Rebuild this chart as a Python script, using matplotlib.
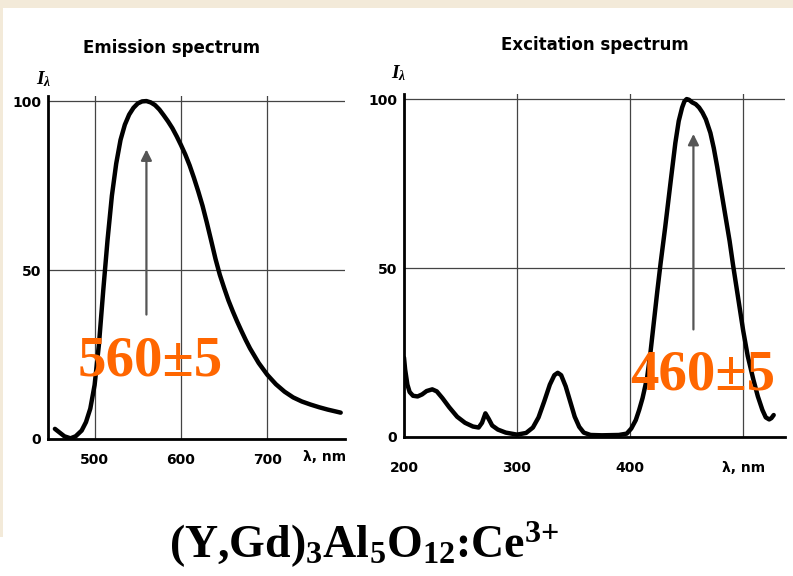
import matplotlib
matplotlib.use("Agg")
import matplotlib.pyplot as plt
from matplotlib.patches import Rectangle

plt.rcParams['mathtext.fontset'] = 'custom'
plt.rcParams['mathtext.rm'] = 'Liberation Serif:bold'
plt.rcParams['mathtext.bf'] = 'Liberation Serif:bold'
plt.rcParams['mathtext.it'] = 'Liberation Serif:bold:italic'

# ---------------- data ----------------
em_wavelength = [454, 460, 465, 472, 478, 485, 490, 495, 500, 505, 510, 515, 520,
                 525, 530, 535, 540, 545, 550, 555, 560, 565, 570, 575, 580, 585,
                 590, 595, 600, 605, 610, 615, 620, 625, 630, 635, 640, 645, 650,
                 655, 660, 665, 670, 675, 680, 690, 700, 710, 720, 730, 740, 750,
                 760, 770, 785]
em_intensity = [3, 1.8, 0.8, 0.2, 0.8, 2.5, 5, 9, 16, 28, 44, 59, 72, 81.5, 88.5,
                93, 96, 98, 99.3, 99.9, 100, 99.6, 98.8, 97.5, 95.8, 94, 92, 89.6,
                87, 84.2, 81, 77.3, 73.3, 69, 64, 58.7, 53.3, 48.6, 44.7, 41, 37.8,
                34.8, 32, 29.3, 26.8, 22.5, 19, 16.2, 14, 12.3, 11.1, 10.2, 9.4,
                8.7, 7.8]

ex_wavelength = [200, 201, 203, 205, 208, 212, 216, 220, 225, 229, 234, 240, 247,
                 254, 261, 266, 269, 272, 275, 278, 283, 290, 300, 308, 314, 319,
                 324, 329, 333, 336, 339, 343, 347, 351, 355, 359, 365, 375, 390,
                 397, 401, 405, 408, 411, 415, 418, 421, 424, 427, 431, 436, 440,
                 443, 446, 448, 450, 452, 455, 458, 461, 464, 467, 471, 474, 477,
                 480, 484, 488, 491, 494, 497, 500, 504, 509, 513, 517, 520, 523,
                 525, 527]
ex_intensity = [23.5, 20, 15.5, 13.3, 12.2, 12, 12.6, 13.6, 14.1, 13.5, 11.5, 8.8,
                6, 4.2, 3.1, 2.8, 4.2, 7, 5.3, 3.4, 2.2, 1.3, 0.7, 1.2, 2.8, 5.8,
                10.5, 15.5, 18.3, 19, 18.3, 15, 10.5, 6, 3, 1.3, 0.6, 0.5, 0.6,
                1, 2.5, 5, 8, 11.5, 17.5, 25, 34, 43, 51.5, 62, 76, 87, 93.5,
                97.5, 99.3, 100, 99.8, 99, 98.5, 97.5, 96, 94, 90, 85.5, 80, 74,
                66, 58, 51, 44.5, 38, 31.5, 24, 17, 12, 8, 5.8, 5.2, 5.6, 6.5]

em_peak = 560
ex_peak = 456
em_label = "560±5"
ex_label = "460±5"

em_xticks = [500, 600, 700]
ex_xticks = [200, 300, 400, 500]
ex_xticklabels = ["200", "300", "400", "λ, nm"]
yticks = [0, 50, 100]

W, H = 793, 576
fig = plt.figure(figsize=(W / 100, H / 100), dpi=100)
fig.patch.set_facecolor("white")

beige = "#f3ead9"
fig.add_artist(Rectangle((0, 1 - 8 / H), 1, 8 / H, transform=fig.transFigure,
                         facecolor=beige, edgecolor="none", zorder=-10))
fig.add_artist(Rectangle((0, 1 - 537 / H), 3 / W, (537 - 8) / H,
                         transform=fig.transFigure, facecolor=beige,
                         edgecolor="none", zorder=-10))


def px_axes(x0, x1, ytop, ybot):
    return fig.add_axes([x0 / W, 1 - ybot / H, (x1 - x0) / W, (ybot - ytop) / H])


ax1 = px_axes(48, 345, 96, 439)
ax2 = px_axes(404, 785, 94, 437)

tick_font = dict(fontsize=10, fontweight="bold", family="DejaVu Sans")

for ax in (ax1, ax2):
    ax.set_ylim(0, 101.5)
    ax.set_yticks(yticks)
    ax.set_yticklabels([str(v) for v in yticks], **tick_font)
    for s in ("top", "right"):
        ax.spines[s].set_visible(False)
    for s in ("left", "bottom"):
        ax.spines[s].set_linewidth(2)
        ax.spines[s].set_color("black")
    ax.tick_params(length=0)
    ax.grid(True, color="#444444", linewidth=0.9)
    ax.set_axisbelow(True)
    ax.set_facecolor("none")

ax1.set_xlim(446, 790)
ax1.set_xticks(em_xticks)
ax1.set_xticklabels([str(v) for v in em_xticks], **tick_font)
ax1.tick_params(axis="x", pad=10)
ax1.tick_params(axis="y", pad=5)

ax2.set_xlim(200, 537)
ax2.set_xticks(ex_xticks)
ax2.set_xticklabels(ex_xticklabels, **tick_font)
ax2.tick_params(axis="x", pad=17)
ax2.tick_params(axis="y", pad=5)

line_kw = dict(color="black", lw=3.2, solid_capstyle="round",
               solid_joinstyle="round", zorder=3)
ax1.plot(em_wavelength, em_intensity, **line_kw)
ax2.plot(ex_wavelength, ex_intensity, **line_kw)

arrow = dict(arrowstyle="-|>", color="#555555", lw=1.6, mutation_scale=16)
ax1.annotate("", xy=(em_peak, 86.5), xytext=(em_peak, 36), arrowprops=arrow, zorder=2)
ax2.annotate("", xy=(ex_peak, 90.5), xytext=(ex_peak, 31), arrowprops=arrow, zorder=2)

ax1.text(766, -5.3, "λ, nm", ha="center", va="center", **tick_font)

# titles and axis symbols
fig.text(172 / W, 1 - 48 / H, "Emission spectrum", ha="center", va="center",
         fontsize=12, family="DejaVu Sans", fontweight="bold")
fig.text(595 / W, 1 - 45 / H, "Excitation spectrum", ha="center", va="center",
         fontsize=12, family="DejaVu Sans", fontweight="bold")
fig.text(44 / W, 1 - 79 / H, r"$\mathit{I}_{\lambda}$", ha="center", va="center",
         fontsize=14)
fig.text(399 / W, 1 - 73 / H, r"$\mathit{I}_{\lambda}$", ha="center", va="center",
         fontsize=14)

# orange peak labels
orange = "#ff6600"
fig.text(150 / W, 1 - 375 / H, em_label, ha="center", va="baseline", color=orange,
         fontsize=41, family="Liberation Serif", fontweight="bold")
fig.text(703 / W, 1 - 390 / H, ex_label, ha="center", va="baseline", color=orange,
         fontsize=41, family="Liberation Serif", fontweight="bold")

# formula
fig.text(364 / W, 1 - 558 / H, r"(Y,Gd)$_3$Al$_5$O$_{12}$:Ce$^{3{+}}$",
         ha="center", va="baseline", fontsize=33, family="Liberation Serif",
         fontweight="bold")

fig.savefig("out.png", dpi=100, facecolor="white")
